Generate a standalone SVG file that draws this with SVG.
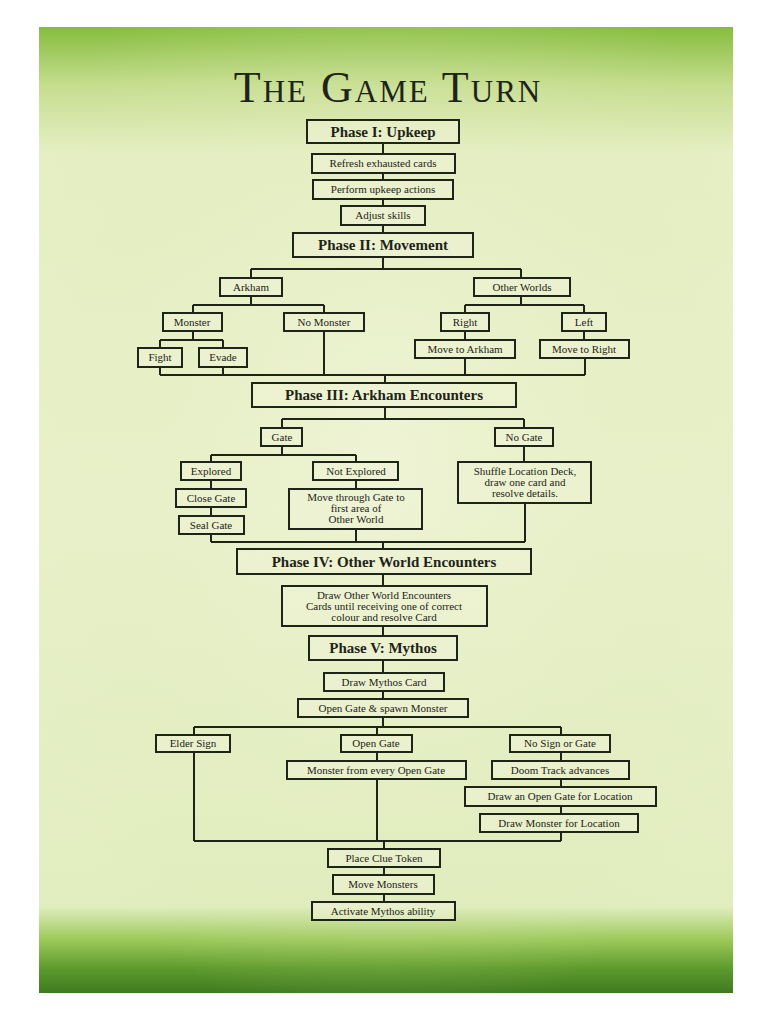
<svg xmlns="http://www.w3.org/2000/svg" width="768" height="1024" viewBox="0 0 768 1024">
<defs>
<linearGradient id="bg" x1="0" y1="0" x2="0" y2="1">
<stop offset="0" stop-color="#86bd3e"/>
<stop offset="0.06" stop-color="#c5dd8e"/>
<stop offset="0.13" stop-color="#e6efc4"/>
<stop offset="0.5" stop-color="#eaf1cc"/>
<stop offset="0.91" stop-color="#e2edbf"/>
<stop offset="0.945" stop-color="#9cc95a"/>
<stop offset="0.975" stop-color="#5d9a2c"/>
<stop offset="1" stop-color="#3f7a20"/>
</linearGradient>
<radialGradient id="glow" cx="0.5" cy="0.45" r="0.6">
<stop offset="0" stop-color="#f3f6de" stop-opacity="0.6"/>
<stop offset="1" stop-color="#d6e6a8" stop-opacity="0"/>
</radialGradient>
<style>
.b rect{fill:#eef3d6;fill-opacity:0.55;stroke:#1e2418;stroke-width:2}
.b text{font-family:"Liberation Serif",serif;font-size:11px;fill:#1e2418;text-anchor:middle}
.p text{font-family:"Liberation Serif",serif;font-size:15px;font-weight:bold;fill:#1e2418;text-anchor:middle}
.c path{fill:none;stroke:#1e2418;stroke-width:2}
</style>
</defs>
<rect width="768" height="1024" fill="#fff"/>
<rect x="39" y="27" width="694" height="966" fill="url(#bg)"/>
<rect x="39" y="27" width="694" height="966" fill="url(#glow)"/>
<text x="388" y="102" font-family="Liberation Serif,serif" font-size="44" fill="#1e2418" text-anchor="middle" letter-spacing="2" style="font-variant:small-caps">The Game Turn</text>

<g class="c">
<path d="M383 143V154M383 173V180M383 199V206M383 225V233"/>
<path d="M383 257V269M251 269H521M251 269V278M521 269V278"/>
<path d="M251 296V305M193 305H324M193 305V313M324 305V313"/>
<path d="M521 296V305M465 305H584M465 305V313M584 305V313"/>
<path d="M193 331V340M160 340H223M160 340V348M223 340V348"/>
<path d="M465 331V340M584 331V340"/>
<path d="M160 367V375M223 367V375M324 331V375M465 358V375M585 358V375M160 375H585M385 375V383"/>
<path d="M385 407V419M282 419H524M282 419V428M524 419V428"/>
<path d="M282 446V455M211 455H356M211 455V462M356 455V462M524 446V462"/>
<path d="M211 480V489M211 507V516M356 480V489"/>
<path d="M211 534V542M356 529V542M525 503V542M211 542H525M383 542V549"/>
<path d="M383 574V586M383 626V636M383 660V673M383 691V699"/>
<path d="M383 717V727M194 727H561M194 727V735M377 727V735M561 727V735"/>
<path d="M377 752V761M561 752V761M561 779V787M561 806V814"/>
<path d="M194 752V841M377 779V841M561 832V841M194 841H561M384 841V849"/>
<path d="M384 867V875M384 894V902"/>
</g>

<g id="phase1" class="p b"><rect x="307" y="120" width="152" height="23"/><text x="383" y="137">Phase I: Upkeep</text></g>
<g id="refresh" class="b"><rect x="312" y="154" width="143" height="19"/><text x="383" y="167">Refresh exhausted cards</text></g>
<g id="perform" class="b"><rect x="313" y="180" width="140" height="19"/><text x="383" y="193">Perform upkeep actions</text></g>
<g id="adjust" class="b"><rect x="341" y="206" width="84" height="19"/><text x="383" y="219">Adjust skills</text></g>
<g id="phase2" class="p b"><rect x="293" y="233" width="180" height="24"/><text x="383" y="250">Phase II: Movement</text></g>
<g id="arkham" class="b"><rect x="220" y="278" width="62" height="18"/><text x="251" y="291">Arkham</text></g>
<g id="otherworlds" class="b"><rect x="474" y="278" width="96" height="18"/><text x="522" y="291">Other Worlds</text></g>
<g id="monster" class="b"><rect x="163" y="313" width="59" height="18"/><text x="192" y="326">Monster</text></g>
<g id="nomonster" class="b"><rect x="284" y="313" width="80" height="18"/><text x="324" y="326">No Monster</text></g>
<g id="right" class="b"><rect x="441" y="313" width="48" height="18"/><text x="465" y="326">Right</text></g>
<g id="left" class="b"><rect x="562" y="313" width="44" height="18"/><text x="584" y="326">Left</text></g>
<g id="fight" class="b"><rect x="138" y="348" width="44" height="19"/><text x="160" y="361">Fight</text></g>
<g id="evade" class="b"><rect x="199" y="348" width="48" height="19"/><text x="223" y="361">Evade</text></g>
<g id="movearkham" class="b"><rect x="415" y="340" width="100" height="18"/><text x="465" y="353">Move to Arkham</text></g>
<g id="moveright" class="b"><rect x="540" y="340" width="89" height="18"/><text x="584" y="353">Move to Right</text></g>
<g id="phase3" class="p b"><rect x="252" y="383" width="264" height="24"/><text x="384" y="400">Phase III: Arkham Encounters</text></g>
<g id="gate" class="b"><rect x="261" y="428" width="41" height="18"/><text x="282" y="441">Gate</text></g>
<g id="nogate" class="b"><rect x="495" y="428" width="58" height="18"/><text x="524" y="441">No Gate</text></g>
<g id="explored" class="b"><rect x="181" y="462" width="60" height="18"/><text x="211" y="475">Explored</text></g>
<g id="notexplored" class="b"><rect x="313" y="462" width="85" height="18"/><text x="356" y="475">Not Explored</text></g>
<g id="shuffle" class="b"><rect x="458" y="462" width="133" height="41"/><text x="525" y="475">Shuffle Location Deck,</text><text x="525" y="486">draw one card and</text><text x="525" y="497">resolve details.</text></g>
<g id="closegate" class="b"><rect x="176" y="489" width="70" height="18"/><text x="211" y="502">Close Gate</text></g>
<g id="sealgate" class="b"><rect x="179" y="516" width="65" height="18"/><text x="211" y="529">Seal Gate</text></g>
<g id="movethrough" class="b"><rect x="289" y="489" width="133" height="40"/><text x="356" y="501">Move through Gate to</text><text x="356" y="512">first area of</text><text x="356" y="523">Other World</text></g>
<g id="phase4" class="p b"><rect x="237" y="549" width="294" height="25"/><text x="384" y="567">Phase IV: Other World Encounters</text></g>
<g id="drawother" class="b"><rect x="282" y="586" width="205" height="40"/><text x="384" y="599">Draw Other World Encounters</text><text x="384" y="610">Cards until receiving one of correct</text><text x="384" y="621">colour and resolve Card</text></g>
<g id="phase5" class="p b"><rect x="309" y="636" width="148" height="24"/><text x="383" y="653">Phase V: Mythos</text></g>
<g id="drawmythos" class="b"><rect x="324" y="673" width="120" height="18"/><text x="384" y="686">Draw Mythos Card</text></g>
<g id="opengatespawn" class="b"><rect x="298" y="699" width="170" height="18"/><text x="383" y="712">Open Gate &amp; spawn Monster</text></g>
<g id="eldersign" class="b"><rect x="156" y="735" width="74" height="17"/><text x="193" y="747">Elder Sign</text></g>
<g id="opengate" class="b"><rect x="341" y="735" width="71" height="17"/><text x="376" y="747">Open Gate</text></g>
<g id="nosign" class="b"><rect x="510" y="735" width="100" height="17"/><text x="560" y="747">No Sign or Gate</text></g>
<g id="monsterevery" class="b"><rect x="287" y="761" width="179" height="18"/><text x="376" y="774">Monster from every Open Gate</text></g>
<g id="doom" class="b"><rect x="492" y="761" width="137" height="18"/><text x="560" y="774">Doom Track advances</text></g>
<g id="drawopengate" class="b"><rect x="465" y="787" width="191" height="19"/><text x="560" y="800">Draw an Open Gate for Location</text></g>
<g id="drawmonster" class="b"><rect x="480" y="814" width="158" height="18"/><text x="559" y="827">Draw Monster for Location</text></g>
<g id="placeclue" class="b"><rect x="328" y="849" width="112" height="18"/><text x="384" y="862">Place Clue Token</text></g>
<g id="movemonsters" class="b"><rect x="333" y="875" width="101" height="19"/><text x="383" y="888">Move Monsters</text></g>
<g id="activate" class="b"><rect x="312" y="902" width="143" height="18"/><text x="383" y="915">Activate Mythos ability</text></g>
</svg>
